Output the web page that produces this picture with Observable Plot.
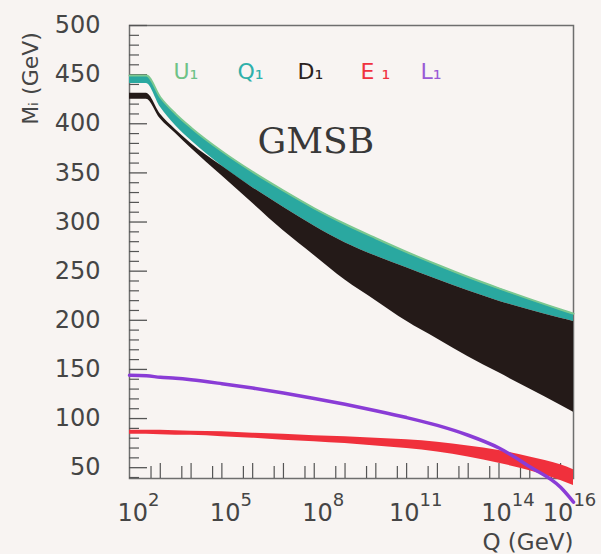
<!DOCTYPE html>
<html>
<head>
<meta charset="utf-8">
<script src="https://cdn.jsdelivr.net/npm/d3@7"></script>
<script src="https://cdn.jsdelivr.net/npm/@observablehq/plot@0.6"></script>
<style>
  html, body { margin: 0; padding: 0; background: #f8f4f2; }
  #chart { width: 601px; height: 554px; overflow: hidden; }
</style>
</head>
<body>
<div id="chart"></div>
<script>
// log10(Q / GeV) sample points
const logQ   = [2,   2.55, 3,   3.5, 4,   5,   6,   7,   8,   9,   10,    11,    12,    13,  14,    15,    16,    16.42];
// U1 / Q1 (upper, teal band)
const U1     = [449, 449,  427, 410, 396, 372, 351, 332, 314, 298, 283.5, 269.5, 256.5, 244, 232.5, 221.5, 211,   206.8];
const Q1low  = [441, 441,  417, 398, 383, 357, 335, 315, 296, 279, 265.5, 253.5, 241.5, 230, 219.5, 210.5, 202,   198.8];
// D1 band (black)
const D1high = [431, 431,  410, 394, 380, 357, 335, 315, 296, 279, 265.5, 253.5, 241.5, 230, 219.5, 210.5, 202,   198.8];
const D1low  = [425, 425,  405, 390, 375, 347, 319, 291, 266, 241, 220,   199,   181,   163, 146.5, 130,   113.5, 106.5];
// E1 band (red)
const E1high = [88,  88,   88,  87.5,87,  86.5,85,  84,  82.5,81.5,80,    78.5,  76,    72,  67.5,  61,    53,    48];
const E1low  = [84,  84,   83.5,83,  83,  81.5,80,  78,  76.5,74.5,72,    69.5,  66,    61,  54.5,  47,    37,    32];
// L1 (purple)
const L1     = [144, 143.5,142, 141, 139.5,135.5,131,126, 120.5,114.5,108, 101,   93,    83,  70,    51,    30,    15];

const yTickValues = [50, 100, 150, 200, 250, 300, 350, 400, 450, 500];
const xTickExponents = [2, 5, 8, 11, 14, 16];
const legendLabels = ["U₁", "Q₁", "D₁", "E ₁", "L₁"];
const legendColors = ["#6fc287", "#2fb0aa", "#2a2220", "#f0323e", "#9a5ad6"];
const legendDx = [44, 108, 168, 231, 291];

const rows = logQ.map((e, i) => ({
  Q: 10 ** e, U1: U1[i], Q1low: Q1low[i], D1high: D1high[i], D1low: D1low[i],
  E1high: E1high[i], E1low: E1low[i], L1: L1[i]
}));

const yMinor = d3.range(40, 501, 10).filter(v => v % 50 !== 0);
const xDecades = d3.range(3, 17).map(e => 10 ** e);
const xHalves = d3.range(2, 16).map(e => 5 * 10 ** e);

const W = 601, H = 554, mL = 129, mR = 28, mT = 25, mB = 76;
const innerW = W - mL - mR, innerH = H - mT - mB;
const curve = "monotone-x";

const svg = Plot.plot({
  width: W, height: H,
  marginLeft: mL, marginRight: mR, marginTop: mT, marginBottom: mB,
  style: { background: "#f8f4f2", fontFamily: "DejaVu Sans", color: "#444" },
  x: { type: "log", domain: [1e2, 10 ** 16.42] },
  y: { domain: [39, 500] },
  marks: [
    Plot.frame({ stroke: "#6e6e6e", strokeWidth: 1.5 }),
    Plot.ruleY(yTickValues, { stroke: "#555", strokeWidth: 1.3, insetRight: innerW - 18 }),
    Plot.ruleY(yMinor, { stroke: "#555", strokeWidth: 1.2, insetRight: innerW - 10 }),
    Plot.ruleX(xDecades, { stroke: "#555", strokeWidth: 1.2, insetTop: innerH - 15 }),
    Plot.ruleX(xHalves, { stroke: "#555", strokeWidth: 1.2, insetTop: innerH - 12 }),
    Plot.axisY({ ticks: yTickValues, tickSize: 0, tickPadding: 29, fontSize: 24, label: null, color: "#454545" }),
    Plot.axisX({ ticks: xTickExponents.map(e => 10 ** e), tickFormat: d => String(Math.round(Math.log10(d))),
                 tickSize: 0, tickPadding: 25, fontSize: 24, label: null, color: "#454545", dx: 9 }),
    Plot.areaY(rows, { x: "Q", y1: "Q1low", y2: "U1", fill: "#2aa8a0", curve }),
    Plot.lineY(rows, { x: "Q", y: "U1", stroke: "#7cc890", strokeWidth: 2, curve }),
    Plot.areaY(rows, { x: "Q", y1: "D1low", y2: "D1high", fill: "#241a18", curve }),
    Plot.areaY(rows, { x: "Q", y1: "E1low", y2: "E1high", fill: "#f0303c", curve }),
    Plot.lineY(rows, { x: "Q", y: "L1", stroke: "#8a3cd6", strokeWidth: 3.5, curve }),
    ...legendLabels.map((t, i) => Plot.text([t], {
      text: d => d, frameAnchor: "top-left", dx: legendDx[i], dy: 46,
      textAnchor: "start", lineAnchor: "middle", fontSize: 22, fill: legendColors[i]
    })),
    Plot.text(["GMSB"], { text: d => d, frameAnchor: "top-left", dx: 128, dy: 116,
      textAnchor: "start", lineAnchor: "middle",
      fontFamily: "DejaVu Serif", fontSize: 36, fill: "#383838" }),
    Plot.text(["Mᵢ (GeV)"], { text: d => d, frameAnchor: "top-left", dx: -99, dy: 53,
      textAnchor: "middle", lineAnchor: "middle", rotate: -90, fontSize: 22, fill: "#454545" }),
    Plot.text(["Q (GeV)"], { text: d => d, frameAnchor: "bottom-right", dy: 64,
      textAnchor: "end", lineAnchor: "middle", fontSize: 23, fill: "#454545" })
  ]
});

d3.select(svg).selectAll('g[aria-label="x-axis tick label"] text').each(function () {
  const e = this.textContent;
  const t = d3.select(this);
  t.text("10");
  t.append("tspan").attr("dy", -15).attr("font-size", 18).text(e);
});

document.getElementById("chart").appendChild(svg);
</script>
</body>
</html>
